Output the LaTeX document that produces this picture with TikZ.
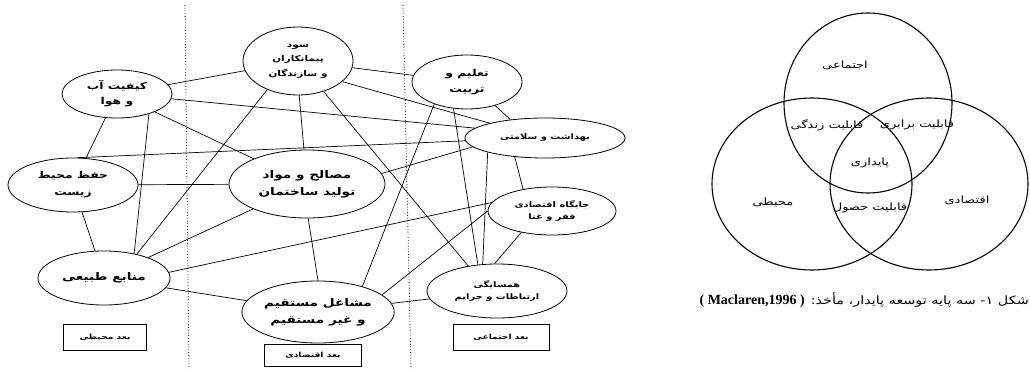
\documentclass[tikz,border=0pt]{standalone}
\usepackage{fontspec}
\usetikzlibrary{shapes.geometric}
\newfontfamily\fa[Script=Arabic,FakeStretch=1.3]{DejaVu Sans}
\newfontfamily\facap[Script=Arabic,FakeStretch=1.25]{DejaVu Sans}
\newfontfamily\latser{Liberation Serif}
\TeXXeTstate=1
\newcommand\farl[1]{\beginR#1\endR}
\begin{document}
\begin{tikzpicture}[x=1pt,y=-1pt,
  el/.style={draw, ellipse, line width=0.8pt, inner sep=0pt, align=center,
    font=\fa\bfseries\fontsize{10.5}{17}\selectfont},
  elsmall/.style={el, font=\fa\bfseries\fontsize{7.6}{12}\selectfont},
  dimbox/.style={draw, rectangle, line width=0.8pt, inner sep=0pt,
    font=\fa\bfseries\fontsize{7}{9}\selectfont},
  link/.style={line width=0.7pt},
  divider/.style={line width=0.8pt, dotted},
  venn/.style={line width=1.1pt},
  vlabel/.style={inner sep=0pt, font=\fa\fontsize{10}{12}\selectfont},
  caption/.style={inner sep=0pt, font=\facap\fontsize{11.5}{14}\selectfont}
]
\useasboundingbox (0,0) rectangle (1030,369);
\fill[white] (0,0) rectangle (1030,369);

% dividers
\coordinate (d1t) at (185,5);   \coordinate (d1b) at (189,369);
\coordinate (d2t) at (403,5);   \coordinate (d2b) at (411,369);
\draw[divider] (d1t) -- (d1b);
\draw[divider] (d2t) -- (d2b);

% nodes
\node[el, minimum width=110pt, minimum height=48pt, font=\fa\bfseries\fontsize{9.5}{15}\selectfont] (kif) at (117,94) {\farl{کیفیت آب}\\\farl{و هوا}};
\node[el, minimum width=110pt, minimum height=68pt, font=\fa\bfseries\fontsize{8}{14.5}\selectfont] (sood) at (298,61) {\farl{سود}\\\farl{پیمانکاران}\\\farl{و سازندگان}};
\node[el, minimum width=110pt, minimum height=54pt, font=\fa\bfseries\fontsize{9.5}{16}\selectfont] (talim) at (467,82) {\farl{تعلیم و}\\\farl{تربیت}};
\node[elsmall, minimum width=160pt, minimum height=40pt] (beh) at (545,138) {\farl{بهداشت و سلامتی}};
\node[el, minimum width=130pt, minimum height=54pt, font=\fa\bfseries\fontsize{9.5}{17}\selectfont] (hefz) at (73,185) {\farl{حفظ محیط}\\\farl{زیست}};
\node[el, minimum width=156pt, minimum height=68pt] (mas) at (307,184) {\farl{مصالح و مواد}\\\farl{تولید ساختمان}};
\node[elsmall, minimum width=128pt, minimum height=48pt] (jay) at (552,211) {\farl{جایگاه اقتصادی}\\\farl{فقر و غنا}};
\node[el, minimum width=132pt, minimum height=54pt] (man) at (104,278) {\farl{منابع طبیعی}};
\node[el, minimum width=150pt, minimum height=62pt] (mash) at (318,312) {\farl{مشاغل مستقیم}\\\farl{و غیر مستقیم}};
\node[elsmall, minimum width=140pt, minimum height=54pt] (ham) at (497,291) {\farl{همسایگی}\\\farl{ارتباطات و جرایم}};

% dimension boxes
\node[dimbox, minimum width=83pt, minimum height=26pt] (bmoh) at (105,337) {\farl{بعد محیطی}};
\node[dimbox, minimum width=97pt, minimum height=22pt] (beqt) at (313,355) {\farl{بعد اقتصادی}};
\node[dimbox, minimum width=96pt, minimum height=26pt] (bejt) at (501,337) {\farl{بعد اجتماعی}};

% connectors
\draw[link] (kif) -- (sood);
\draw[link] (kif.355) -- (beh.172);
\draw[link] (kif) -- (mas);
\draw[link] (kif) -- (hefz);
\draw[link] (kif.328) -- (man.39);
\draw[link] (hefz) -- (man);
\draw[link] (hefz) -- (mas);
\draw[link] (hefz.80) -- (beh.182);
\draw[link] (sood) -- (talim);
\draw[link] (sood.335) -- (beh.165);
\draw[link] (sood.272) -- (mas.95);
\draw[link] (sood.223) -- (man.36);
\draw[link] (sood.310) -- (ham.139);
\draw[link] (talim.320) -- (beh.152);
\draw[link] (talim.214) -- (mash.30);
\draw[link] (talim.243) -- (ham.126);
\draw[link] (beh.194) -- (ham.118);
\draw[link] (beh.212) -- (jay.143);
\draw[link] (beh.187) -- (mas.8);
\draw[link] (mas.272) -- (mash.90);
\draw[link] (mas) -- (man);
\draw[link] (man.5) -- (jay.172);
\draw[link] (mash.15) -- (jay.180);
\draw[link] (jay.215) -- (ham.95);
\draw[link] (mash) -- (man);
\draw[link] (mash) -- (ham);

% Venn diagram
\draw[venn] (868,103) ellipse [x radius=84pt, y radius=90pt];
\draw[venn] (812,184) ellipse [x radius=100pt, y radius=86pt];
\draw[venn] (929,184) ellipse [x radius=99pt, y radius=86pt];
\node[vlabel] (vejt) at (845,65) {\farl{اجتماعی}};
\node[vlabel] (vzen) at (827,125) {\farl{قابلیت زندگی}};
\node[vlabel] (vbar) at (917,125) {\farl{قابلیت برابری}};
\node[vlabel] (vpay) at (870,163) {\farl{پایداری}};
\node[vlabel] (vmoh) at (773,202) {\farl{محیطی}};
\node[vlabel] (veqt) at (967,200) {\farl{اقتصادی}};
\node[vlabel] (vhos) at (870,208) {\farl{قابلیت حصول}};

% caption
\node[caption, anchor=east] (cap) at (1029,300) {\beginR شکل ۱- سه پایه توسعه پایدار، مأخذ: \beginL{\latser\bfseries\fontsize{14}{16}\selectfont ( Maclaren,1996 )}\endL\endR};
\end{tikzpicture}
\end{document}
